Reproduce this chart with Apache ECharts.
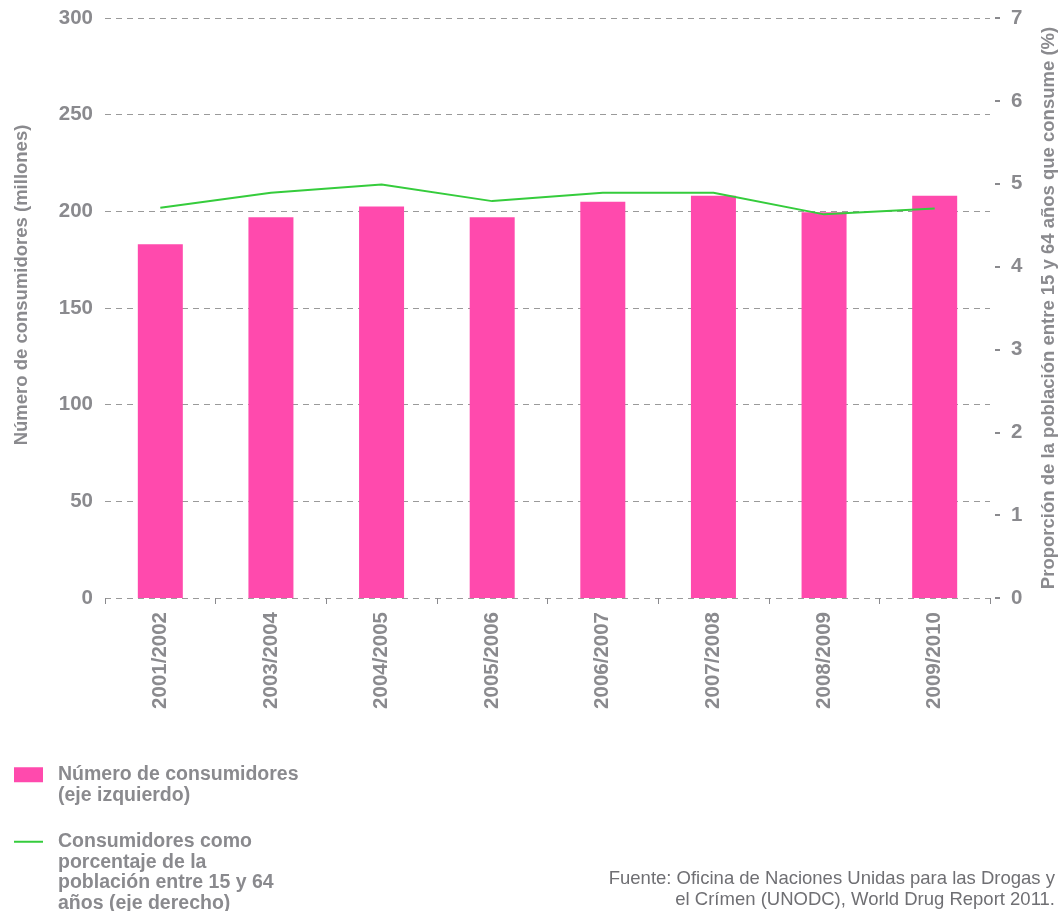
<!DOCTYPE html>
<html>
<head>
<meta charset="utf-8">
<style>
  html, body { margin: 0; padding: 0; background: #fff; }
  #chart { width: 1062px; height: 911px; }
</style>
<script src="https://cdn.jsdelivr.net/npm/echarts@6/dist/echarts.min.js"></script>
</head>
<body>
<div id="chart"></div>
<script>
// datos
const periodos = ['2001/2002', '2003/2004', '2004/2005', '2005/2006', '2006/2007', '2007/2008', '2008/2009', '2009/2010']
const consumidores = [183, 197, 202.5, 197, 205, 208, 199.5, 208]
const porcentaje = [4.71, 4.89, 4.99, 4.79, 4.89, 4.89, 4.63, 4.7]
const ticksIzq = [0, 50, 100, 150, 200, 250, 300]
const ticksDer = [0, 1, 2, 3, 4, 5, 6, 7]

const gris = '#8a8a8e'
const fuente = 'Liberation Sans, Arial, sans-serif'

const nombreBarras = 'Número de consumidores'
const nombreLinea = 'Consumidores como porcentaje'
// líneas de cada entrada de la leyenda; las vacías del principio bajan el texto
const lineasBarras = ['', 'Número de consumidores', '(eje izquierdo)']
const lineasLinea = ['', '', '', 'Consumidores como', 'porcentaje de la', 'población entre 15 y 64', 'años (eje derecho)']

function textoLeyenda(lineas) {
  return lineas.map(l => l ? '{t|' + l + '}' : '').join('\n')
}

const chart = echarts.init(document.getElementById('chart'), null, { renderer: 'canvas' })

const estiloLeyenda = {
  fontFamily: fuente, fontSize: 19.5, fontWeight: 'bold', color: gris, lineHeight: 20.5,
  rich: { t: { fontFamily: fuente, fontSize: 19.5, fontWeight: 'bold', color: gris, lineHeight: 20.5, padding: [0, 0, 0, 10] } }
}

const option = {
  animation: false,
  textStyle: { fontFamily: fuente },
  grid: { left: 105, right: 72, top: 18, bottom: 313, containLabel: false, outerBoundsMode: 'none' },
  legend: [
    {
      data: [nombreBarras],
      left: 14,
      top: 744,
      padding: 0,
      itemWidth: 29,
      itemHeight: 15,
      icon: 'rect',
      formatter: () => textoLeyenda(lineasBarras),
      textStyle: estiloLeyenda
    },
    {
      data: [nombreLinea],
      left: 14,
      top: 770,
      padding: 0,
      itemWidth: 29,
      itemHeight: 2,
      icon: 'rect',
      formatter: () => textoLeyenda(lineasLinea),
      textStyle: estiloLeyenda
    }
  ],
  graphic: [
    {
      type: 'text',
      x: 22,
      y: 285,
      rotation: Math.PI / 2,
      style: {
        text: 'Número de consumidores (millones)',
        fill: gris,
        font: 'bold 18.5px ' + fuente,
        align: 'center',
        verticalAlign: 'middle'
      }
    },
    {
      type: 'text',
      x: 1055,
      y: 868,
      style: {
        text: 'Fuente: Oficina de Naciones Unidas para las Drogas y\nel Crímen (UNODC), World Drug Report 2011.',
        fill: '#6f6f73',
        font: '18.5px ' + fuente,
        lineHeight: 21,
        align: 'right',
        verticalAlign: 'top'
      }
    }
  ],
  xAxis: {
    type: 'category',
    data: periodos,
    axisLine: { show: false },
    axisTick: { show: true, length: 6, lineStyle: { color: gris } },
    axisLabel: { rotate: 90, margin: 14, color: gris, fontSize: 20.5, fontWeight: 'bold', fontFamily: fuente }
  },
  yAxis: [
    {
      type: 'value',
      min: ticksIzq[0],
      max: ticksIzq[ticksIzq.length - 1],
      interval: 50,
      axisLine: { show: false },
      axisTick: { show: false },
      axisLabel: { margin: 12, color: gris, fontSize: 20.5, fontWeight: 'bold', fontFamily: fuente },
      splitLine: { lineStyle: { color: '#9a9a9a', type: [6, 5], width: 1 } }
    },
    {
      type: 'value',
      position: 'right',
      offset: 5,
      min: ticksDer[0],
      max: ticksDer[ticksDer.length - 1],
      interval: 1,
      name: 'Proporción de la población entre 15 y 64 años que consume (%)',
      nameLocation: 'middle',
      nameRotate: 90,
      nameGap: 44,
      nameTextStyle: { color: gris, fontSize: 18.5, fontWeight: 'bold', fontFamily: fuente },
      axisLine: { show: false },
      axisTick: { show: true, length: 5, lineStyle: { color: gris, width: 2 } },
      axisLabel: { margin: 16, color: gris, fontSize: 20.5, fontWeight: 'bold', fontFamily: fuente },
      splitLine: { show: false }
    }
  ],
  series: [
    {
      name: nombreLinea,
      type: 'line',
      yAxisIndex: 1,
      data: porcentaje,
      symbol: 'none',
      lineStyle: { color: '#35cc3c', width: 2 },
      itemStyle: { color: '#35cc3c' }
    },
    {
      name: nombreBarras,
      type: 'bar',
      yAxisIndex: 0,
      data: consumidores,
      barWidth: 45,
      itemStyle: { color: '#ff4aad' }
    }
  ]
}

chart.setOption(option)
</script>
</body>
</html>
